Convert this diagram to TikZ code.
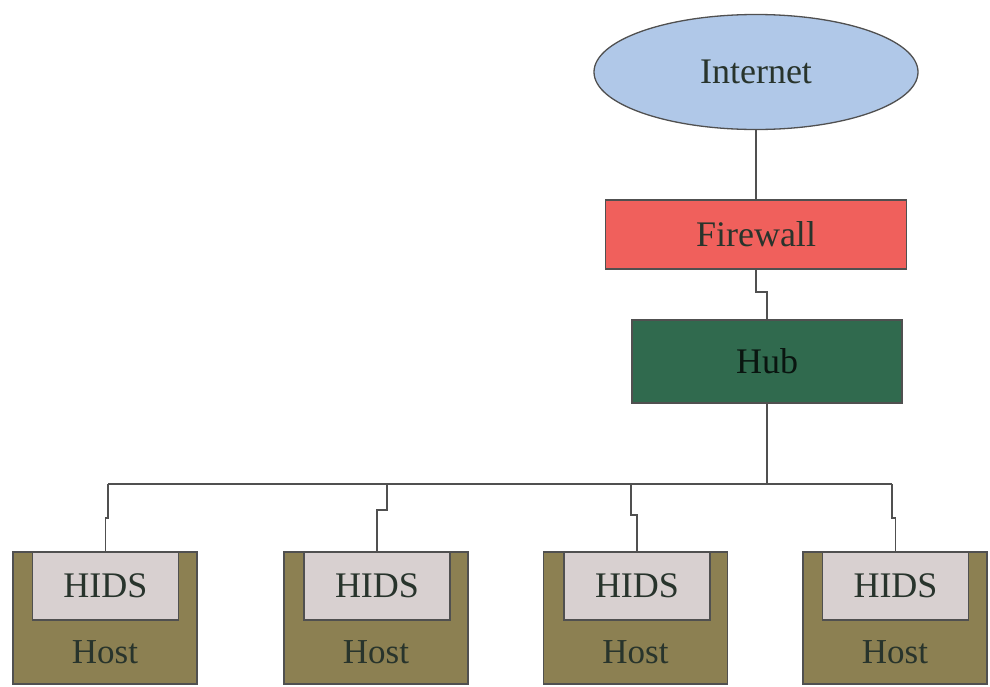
\documentclass[tikz,border=0pt]{standalone}
\usepackage{fontspec}
\setmainfont{Liberation Serif}
\usetikzlibrary{shapes.geometric}
\definecolor{netblue}{RGB}{176,200,232}
\definecolor{fwred}{RGB}{240,96,92}
\definecolor{hubgreen}{RGB}{48,106,78}
\definecolor{hostolive}{RGB}{140,128,82}
\definecolor{hidsgray}{RGB}{216,208,208}
\definecolor{edgegray}{RGB}{80,80,80}
\definecolor{txtdark}{RGB}{40,52,44}
\tikzset{
  base/.style={draw=edgegray, line width=1.3pt, inner sep=0pt, outer sep=0pt,
    text=txtdark, font=\fontsize{36}{40}\selectfont},
  cloud/.style={base, ellipse, fill=netblue, minimum width=324pt, minimum height=115pt},
  fwbox/.style={base, rectangle, fill=fwred, minimum width=301pt, minimum height=69pt},
  hubbox/.style={base, rectangle, fill=hubgreen, minimum width=270pt, minimum height=83pt, text=black!80!hubgreen},
  hostbox/.style={base, rectangle, fill=hostolive, minimum width=184pt, minimum height=132pt},
  hidsbox/.style={base, rectangle, fill=hidsgray, minimum width=146pt, minimum height=68pt},
  hosttext/.style={inner sep=0pt, text=txtdark, font=\fontsize{35}{40}\selectfont},
  wire/.style={draw=edgegray, line width=1.3pt}
}
\begin{document}
\begin{tikzpicture}[x=1pt,y=-1pt]
\useasboundingbox (0,0) rectangle (990,686);
\clip (0,0) rectangle (990,686);
\node[cloud] (inet) at (756,72) {Internet};
\node[fwbox] (fw) at (756,234.5) {Firewall};
\node[hubbox] (hub) at (767,361.5) {Hub};
\coordinate (busL) at (108,484);
\coordinate (busR) at (892,484);
\coordinate (busH) at (767,484);
\coordinate (bus2) at (387,484);
\coordinate (bus3) at (631,484);
% hosts
\foreach \i/\hx/\dx in {1/105/105.5, 2/376/377, 3/635.5/637, 4/895/895.5}{
  \node[hostbox] (host\i) at (\hx,618) {};
  \node[hidsbox] (hids\i) at (\dx,586) {HIDS};
  \node[hosttext] (hlab\i) at (\hx,652) {Host};
}
\draw[wire] (inet.south) -- (fw.north);
\draw[wire] (fw.south) -- ++(0,23) -| (hub.north);
\draw[wire] (hub.south) -- (busH);
\draw[wire] (busL) -- (busR);
\draw[wire] (busL) -- ++(0,34) -| (hids1.north);
\draw[wire] (bus2) -- ++(0,26) -| (hids2.north);
\draw[wire] (bus3) -- ++(0,31) -| (hids3.north);
\draw[wire] (busR) -- ++(0,34) -| (hids4.north);
\end{tikzpicture}
\end{document}
